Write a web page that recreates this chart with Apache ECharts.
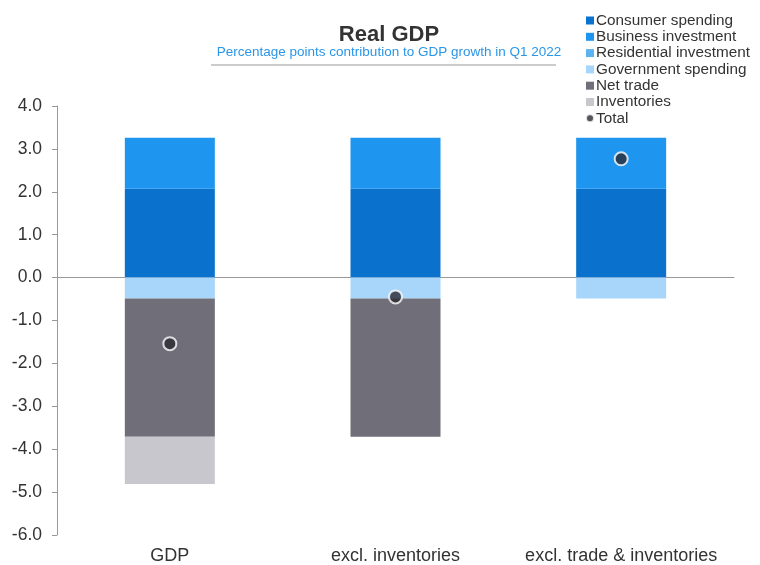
<!DOCTYPE html>
<html>
<head>
<meta charset="utf-8">
<script src="https://cdn.jsdelivr.net/npm/echarts@6/dist/echarts.min.js"></script>
<style>
  html, body { margin: 0; padding: 0; background: #fff; }
  #chart { width: 760px; height: 565px; }
</style>
</head>
<body>
<div id="chart"></div>
<script>
const categories = ["GDP", "excl. inventories", "excl. trade & inventories"];
const consumer = [2.07, 2.07, 2.07];
const business = [1.19, 1.19, 1.19];
const residential = [0, 0, 0];
const government = [-0.49, -0.49, -0.49];
const netTrade = [-3.22, -3.22, 0];
const inventories = [-1.1, 0, 0];
const total = [-1.54, -0.45, 2.77];

let myChart = echarts.init(document.getElementById("chart"));

function bar(name, data, color) {
  return {
    name: name,
    type: "bar",
    stack: "total",
    data: data,
    barWidth: 90,
    itemStyle: { color: color }
  };
}

myChart.setOption({
  animation: false,
  title: {
    text: "Real GDP",
    subtext: "Percentage points contribution to GDP growth in Q1 2022",
    left: 384,
    textAlign: "center",
    top: 19,
    itemGap: -1,
    textStyle: { fontFamily: "Liberation Sans", fontSize: 22, fontWeight: "bold", color: "#333" },
    subtextStyle: { fontFamily: "Liberation Sans", fontSize: 13.5, color: "#2a96e8" }
  },
  graphic: [{
    type: "line",
    shape: { x1: 211, y1: 65, x2: 556, y2: 65 },
    style: { stroke: "#999", lineWidth: 1 }
  }],
  legend: {
    orient: "vertical",
    left: 580,
    top: 8,
    itemWidth: 8,
    itemHeight: 8,
    itemGap: 1.3,
    icon: "rect",
    textStyle: { fontFamily: "Liberation Sans", fontSize: 15.3, lineHeight: 15, color: "#333", padding: [0, 0, 0, -3] },
    data: [
      "Consumer spending", "Business investment", "Residential investment",
      "Government spending", "Net trade", "Inventories",
      { name: "Total", icon: "circle" }
    ]
  },
  grid: { left: 57, right: 26, top: 106, bottom: 30, containLabel: false },
  xAxis: {
    type: "category",
    data: categories,
    axisLine: { onZero: true, lineStyle: { color: "#999" } },
    axisTick: { show: false },
    axisLabel: {
      fontFamily: "Liberation Sans", fontSize: 18, color: "#333",
      margin: 12,
      interval: 0
    },
    position: "bottom"
  },
  yAxis: {
    type: "value",
    min: -6,
    max: 4,
    interval: 1,
    splitLine: { show: false },
    axisLine: { show: true, lineStyle: { color: "#999" } },
    axisTick: { show: true, inside: false, length: 5, lineStyle: { color: "#999" } },
    axisLabel: {
      fontFamily: "Liberation Sans", fontSize: 17.5, color: "#333", margin: 15,
      formatter: v => v.toFixed(1)
    }
  },
  series: [
    bar("Consumer spending", consumer, "#0a72cc"),
    bar("Business investment", business, "#1e95ef"),
    bar("Residential investment", residential, "#5cb3f0"),
    bar("Government spending", government, "#a7d6fa"),
    bar("Net trade", netTrade, "#6f6e79"),
    bar("Inventories", inventories, "#c8c7cd"),
    {
      name: "Total",
      type: "scatter",
      data: total,
      symbol: "circle",
      symbolSize: 13,
      z: 5,
      itemStyle: { color: "#2b2b33", borderColor: "#fff", borderWidth: 2 }
    }
  ]
});
</script>
</body>
</html>
